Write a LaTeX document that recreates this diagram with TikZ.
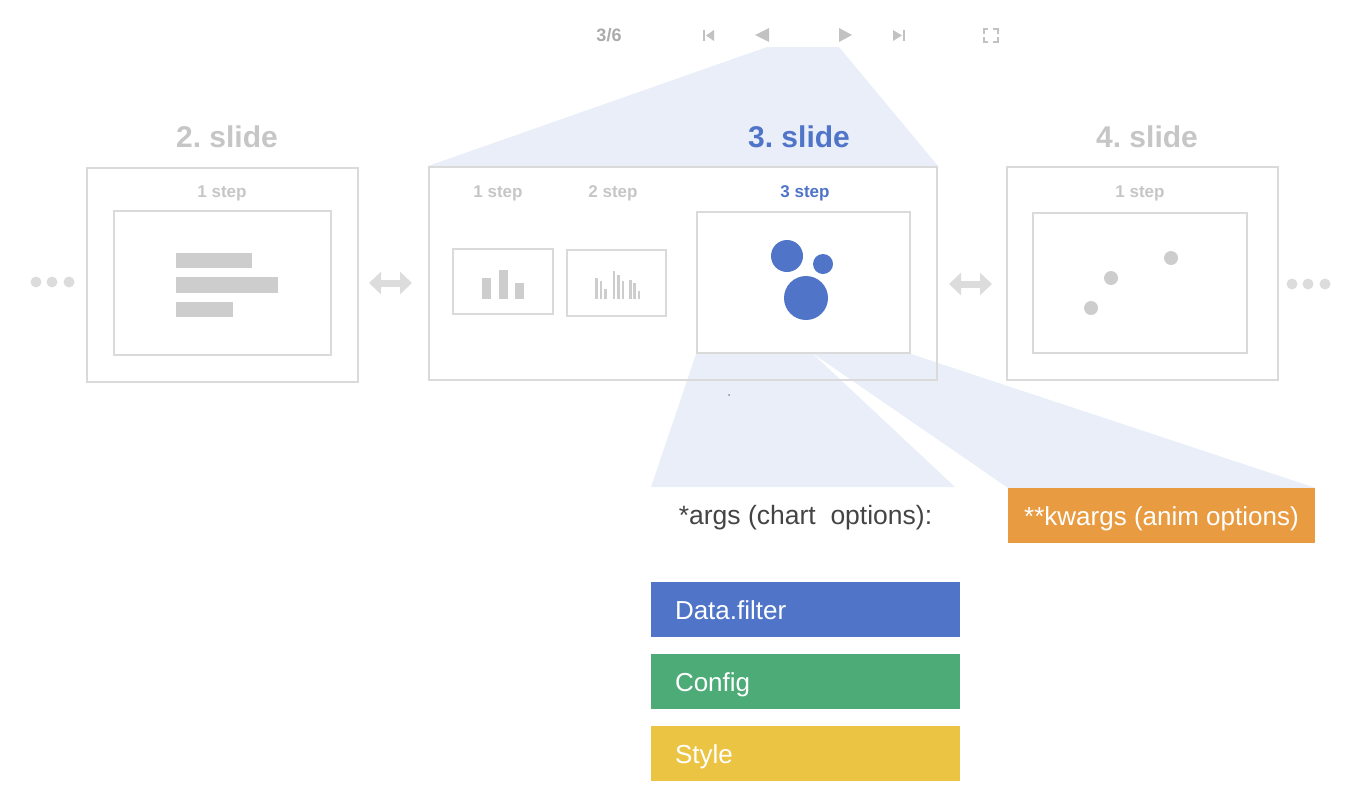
\documentclass[tikz,border=0pt]{standalone}
\usepackage{fontspec}
\setmainfont{Liberation Sans}
\usetikzlibrary{arrows.meta,backgrounds}
\frenchspacing
\definecolor{lineg}{HTML}{DADADA}
\definecolor{txtg}{HTML}{C6C6C6}
\definecolor{barg}{HTML}{CDCDCD}
\definecolor{dotg}{HTML}{DCDCDC}
\definecolor{fanc}{HTML}{E9EEF8}
\definecolor{cblue}{HTML}{4F74C8}
\definecolor{cgreen}{HTML}{4DAB77}
\definecolor{cyellow}{HTML}{EBC443}
\definecolor{corange}{HTML}{E89B40}
\definecolor{ctool}{HTML}{ABABAB}
\definecolor{cicon}{HTML}{C2C2C2}
\definecolor{cdark}{HTML}{444444}
\begin{document}
\begin{tikzpicture}[x=1pt,y=-1pt,
  frame/.style={draw=lineg, line width=2pt, inner sep=0pt},
  slidetitle/.style={font=\fontsize{30}{36}\selectfont\bfseries, inner sep=0pt, anchor=base},
  steplbl/.style={font=\fontsize{17}{20}\selectfont\bfseries, inner sep=0pt, anchor=base, text=txtg},
  optbox/.style={inner xsep=24pt, inner ysep=0pt, minimum height=55pt, text=white,
     font=\fontsize{26}{30}\selectfont, text height=19pt, text depth=0pt},
  dblarrow/.style={draw=dotg, line width=7pt, {Triangle[length=12pt,width=22pt]}-{Triangle[length=12pt,width=22pt]}},
  bar/.style={fill=barg},
  dotc/.style={fill=dotg}
]
\useasboundingbox (0,0) rectangle (1362,796);

% toolbar
\node[font=\fontsize{18}{21}\selectfont\bfseries, text=ctool, inner sep=0pt, anchor=base] (cnt) at (609,41.5) {3/6};
\fill[cicon] (703,30) rectangle (705,41);
\fill[cicon] (706,35.5) -- (714,30) -- (714,41) -- cycle;
\fill[cicon] (755,35) -- (769,28) -- (769,42) -- cycle;
\fill[cicon] (852,35) -- (839,28) -- (839,42) -- cycle;
\fill[cicon] (902,35.5) -- (893,30) -- (893,41) -- cycle;
\fill[cicon] (903,30) rectangle (905,41);
\begin{scope}[draw=cicon, line width=2pt]
\draw (983.5,33.5) -- (983.5,29) -- (988,29);
\draw (993,29) -- (997.5,29) -- (997.5,33.5);
\draw (997.5,37) -- (997.5,41.5) -- (993,41.5);
\draw (988,41.5) -- (983.5,41.5) -- (983.5,37);
\end{scope}
\coordinate (prevb) at (767,47);
\coordinate (nextb) at (839,47);

% slide 2
\node[frame, minimum width=271pt, minimum height=214pt] (s2) at (222.5,275) {};
\node[frame, minimum width=217pt, minimum height=144pt] (s2i) at (222.5,283) {};
\node[slidetitle, text=txtg] (s2t) at (227,147) {2. slide};
\node[steplbl] (s2s) at (222,197) {1 step};
\fill[bar] (176,253) rectangle (252,268);
\fill[bar] (176,277) rectangle (278,293);
\fill[bar] (176,302) rectangle (233,317);

% slide 3
\node[frame, minimum width=508pt, minimum height=213pt] (s3) at (683,273.5) {};
\node[slidetitle, text=cblue] (s3t) at (799,147) {3. slide};
\node[steplbl] (st1) at (498,197) {1 step};
\node[steplbl] (st2) at (613,197) {2 step};
\node[steplbl, text=cblue] (st3) at (805,197) {3 step};
\node[frame, minimum width=100pt, minimum height=65pt] (t1) at (503,281.5) {};
\node[frame, minimum width=99pt, minimum height=66pt] (t2) at (616.5,283) {};
\node[frame, minimum width=213pt, minimum height=141pt] (t3) at (803.5,282.5) {};
\fill[bar] (482,278) rectangle (491,299);
\fill[bar] (498.5,270) rectangle (507.5,299);
\fill[bar] (515,283) rectangle (524,299);
\foreach \x/\t in {595/278,599.5/281,604/289,612.8/271,617.2/275,621.6/281,629/280,633.4/283,637.8/291}
  \fill[bar] (\x,\t) rectangle (\x+2.6,299);
\fill[cblue] (787,256) circle (16);
\fill[cblue] (823,264) circle (10);
\fill[cblue] (806,298) circle (22);

% slide 4
\node[frame, minimum width=271pt, minimum height=213pt] (s4) at (1142.5,273.5) {};
\node[frame, minimum width=214pt, minimum height=140pt] (s4i) at (1140,283) {};
\node[slidetitle, text=txtg] (s4t) at (1147,147) {4. slide};
\node[steplbl] (s4s) at (1140,197) {1 step};
\fill[bar] (1171,258) circle (7);
\fill[bar] (1111,278) circle (7);
\fill[bar] (1091,308) circle (7);

% dots
\foreach \x in {36,52,69} \fill[dotc] (\x,282) circle (5.5);
\foreach \x in {1292,1308,1325} \fill[dotc] (\x,284) circle (5.5);

% navigation arrows
\draw[dblarrow, shorten <=10pt, shorten >=16pt] ([yshift=-8pt]s2.east) -- ([yshift=-9.5pt]s3.west);
\draw[dblarrow, shorten <=11pt, shorten >=14pt] ([yshift=-10.5pt]s3.east) -- ([yshift=-10.5pt]s4.west);

% options
\node[font=\fontsize{26.5}{30}\selectfont, text=cdark, inner sep=0pt, text height=19pt, text depth=0pt] (args) at (805.5,515) {*args (chart\ \ options):};
\node[optbox, fill=corange, inner xsep=0pt, minimum width=307pt] (kw) at (1161.5,515.5) {**kwargs (anim options)};
\node[optbox, fill=cblue, minimum width=309pt] (df) at (805.5,609.5) {\makebox[261pt][l]{Data.filter}};
\node[optbox, fill=cgreen, minimum width=309pt] (cf) at (805.5,681.5) {\makebox[261pt][l]{Config}};
\node[optbox, fill=cyellow, minimum width=309pt] (sy) at (805.5,753.5) {\makebox[261pt][l]{Style}};
\coordinate (apex) at (812,353);
\coordinate (argsl) at (651,487);
\coordinate (argsr) at (955,487);
\fill[black!45] (729,395) circle (1);

\begin{scope}[on background layer]
\fill[fanc] (prevb) -- (nextb) -- (s3.north east) -- (s3.north west) -- cycle;
\fill[fanc] (t3.south west) -- (apex) -- (argsr) -- (argsl) -- cycle;
\fill[fanc] (apex) -- (t3.south east) -- (kw.north east) -- (kw.north west) -- cycle;
\end{scope}
\end{tikzpicture}
\end{document}
